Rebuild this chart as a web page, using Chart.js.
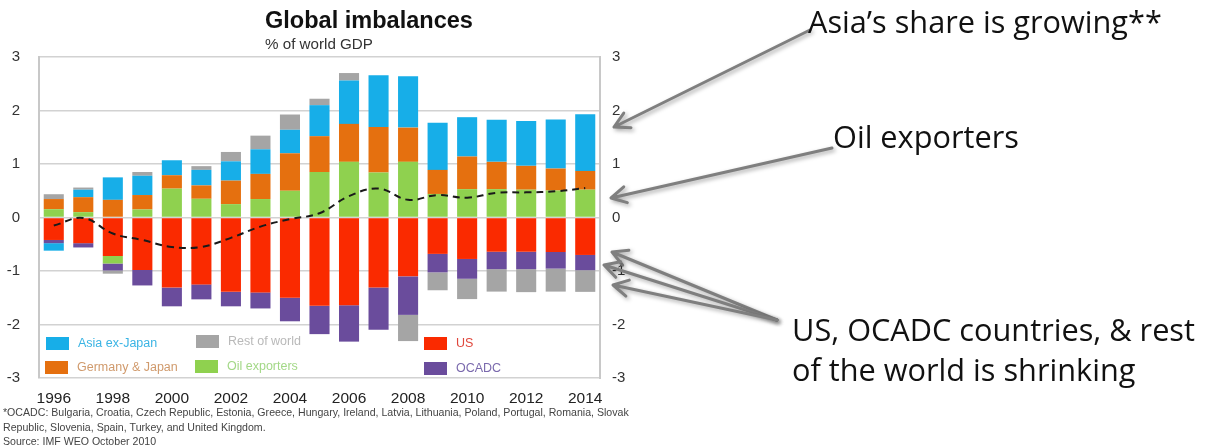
<!DOCTYPE html>
<html>
<head>
<meta charset="utf-8">
<script src="https://cdn.jsdelivr.net/npm/chart.js@4.4.1/dist/chart.umd.min.js"></script>
<style>
  html, body { margin: 0; padding: 0; background: #fff; }
  #wrap { width: 1205px; height: 446px; position: relative; }
</style>
</head>
<body>
<div id="wrap"><canvas id="imbalances" width="1205" height="446"></canvas></div>
<script>
// current account balances, % of world GDP
const years = ['1996', '1997', '1998', '1999', '2000', '2001', '2002', '2003', '2004', '2005',
  '2006', '2007', '2008', '2009', '2010', '2011', '2012', '2013', '2014'];

const us = [-0.42, -0.48, -0.72, -0.98, -1.31, -1.25, -1.39, -1.40, -1.50, -1.65,
  -1.64, -1.31, -1.10, -0.68, -0.775, -0.64, -0.64, -0.645, -0.70];
const oilExporters = [0.155, 0.10, -0.14, 0.15, 0.54, 0.35, 0.25, 0.345, 0.50, 0.85,
  1.04, 0.84, 1.04, 0.44, 0.53, 0.53, 0.52, 0.505, 0.52];
const germanyJapan = [0.19, 0.28, 0.33, 0.27, 0.25, 0.25, 0.44, 0.47, 0.70, 0.67,
  0.71, 0.85, 0.64, 0.45, 0.61, 0.51, 0.445, 0.41, 0.35];
const ocadc = [-0.06, -0.08, -0.13, -0.29, -0.35, -0.28, -0.27, -0.30, -0.44, -0.53,
  -0.68, -0.79, -0.72, -0.345, -0.37, -0.325, -0.325, -0.31, -0.285];
const asiaExJapan = [-0.14, 0.14, 0.42, 0.36, 0.28, 0.29, 0.36, 0.46, 0.44, 0.58,
  0.81, 0.97, 0.96, 0.88, 0.735, 0.785, 0.84, 0.915, 1.06];
const restOfWorld = [0.09, 0.04, -0.06, 0.07, 0, 0.07, 0.175, 0.255, 0.285, 0.12,
  0.14, 0, -0.49, -0.335, -0.38, -0.42, -0.43, -0.43, -0.405];
const discrepancy = [-0.15, -0.01, -0.30, -0.42, -0.55, -0.55, -0.38, -0.17, -0.03, 0.08,
  0.40, 0.54, 0.33, 0.42, 0.37, 0.46, 0.47, 0.49, 0.55];

const yTicks = [-3, -2, -1, 0, 1, 2, 3];

const colors = {
  asia: '#17aee8',
  gj: '#e5700f',
  oil: '#8fd14f',
  rest: '#a5a5a5',
  us: '#fa2a00',
  ocadc: '#6a4c9c'
};

const sansFont = '"Liberation Sans", Arial, sans-serif';
const noteFont = '"Open Sans", "Noto Sans", sans-serif';

function fitFont(ctx, text, width, weight, family) {
  ctx.font = weight + ' 100px ' + family;
  const size = 100 * width / ctx.measureText(text).width;
  return weight + ' ' + size.toFixed(2) + 'px ' + family;
}

// legend boxes sit inside the plot, under the negative bars
const legendItems = [
  { text: 'Asia ex-Japan', color: colors.asia, textColor: '#3ab4e4', x: 46, y: 337 },
  { text: 'Rest of world', color: colors.rest, textColor: '#b9b9b9', x: 196, y: 335 },
  { text: 'US', color: colors.us, textColor: '#e0473c', x: 424, y: 337 },
  { text: 'Germany & Japan', color: colors.gj, textColor: '#d09a6c', x: 45, y: 361 },
  { text: 'Oil exporters', color: colors.oil, textColor: '#a3d887', x: 195, y: 360 },
  { text: 'OCADC', color: colors.ocadc, textColor: '#7a69ad', x: 424, y: 362 }
];

const legendPlugin = {
  id: 'insideLegend',
  afterDatasetsDraw(chart) {
    const ctx = chart.ctx;
    ctx.save();
    ctx.font = '12.5px ' + sansFont;
    ctx.textBaseline = 'middle';
    legendItems.forEach(it => {
      ctx.fillStyle = it.color;
      ctx.fillRect(it.x, it.y, 23, 13);
      ctx.fillStyle = it.textColor;
      ctx.fillText(it.text, it.x + 32, it.y + 7);
    });
    ctx.restore();
  }
};

function arrow(ctx, x1, y1, x2, y2) {
  const ang = Math.atan2(y2 - y1, x2 - x1);
  const head = 17;
  ctx.beginPath();
  ctx.moveTo(x1, y1);
  ctx.lineTo(x2, y2);
  ctx.moveTo(x2 - head * Math.cos(ang - 0.5), y2 - head * Math.sin(ang - 0.5));
  ctx.lineTo(x2, y2);
  ctx.lineTo(x2 - head * Math.cos(ang + 0.5), y2 - head * Math.sin(ang + 0.5));
  ctx.stroke();
}

const textPlugin = {
  id: 'texts',
  afterDraw(chart) {
    const ctx = chart.ctx;
    ctx.save();

    // title block
    ctx.fillStyle = '#111';
    ctx.textBaseline = 'alphabetic';
    ctx.font = fitFont(ctx, 'Global imbalances', 208, 'bold', sansFont);
    ctx.fillText('Global imbalances', 265, 28);
    ctx.fillStyle = '#333';
    ctx.font = fitFont(ctx, '% of world GDP', 108, 'normal', sansFont);
    ctx.fillText('% of world GDP', 265, 49);

    // footnote
    ctx.fillStyle = '#444';
    const foot1 = '*OCADC: Bulgaria, Croatia, Czech Republic, Estonia, Greece, Hungary, Ireland, Latvia, Lithuania, Poland, Portugal, Romania, Slovak';
    ctx.font = fitFont(ctx, foot1, 626, 'normal', sansFont);
    ctx.fillText(foot1, 3, 416);
    ctx.fillText('Republic, Slovenia, Spain, Turkey, and United Kingdom.', 3, 431);
    ctx.fillText('Source: IMF WEO October 2010', 3, 445);

    // callout arrows
    ctx.strokeStyle = '#7f7f7f';
    ctx.lineWidth = 3;
    ctx.lineCap = 'round';
    ctx.lineJoin = 'round';
    ctx.shadowColor = 'rgba(0,0,0,0.35)';
    ctx.shadowBlur = 4;
    ctx.shadowOffsetX = 2;
    ctx.shadowOffsetY = 2;
    arrow(ctx, 810, 30, 614, 127);
    arrow(ctx, 832, 148, 611, 198);
    arrow(ctx, 777, 320, 612, 252);
    arrow(ctx, 777, 320, 604, 265);
    arrow(ctx, 777, 320, 613, 285);
    ctx.shadowColor = 'transparent';

    // callout text
    ctx.fillStyle = '#111';
    ctx.font = fitFont(ctx, 'US, OCADC countries, & rest', 403, 'normal', noteFont);
    ctx.fillText('Asia’s share is growing**', 808, 33);
    ctx.fillText('Oil exporters', 833, 148);
    ctx.fillText('US, OCADC countries, & rest', 792, 341);
    ctx.fillText('of the world is shrinking', 792, 381);
    ctx.restore();
  }
};

const barSet = (label, data, color) => ({
  type: 'bar', label, data, backgroundColor: color, stack: 'regions',
  barPercentage: 0.68, categoryPercentage: 1
});

new Chart(document.getElementById('imbalances'), {
  data: {
    labels: years,
    datasets: [
      {
        type: 'line', label: 'Discrepancy', data: discrepancy, stack: 'line', order: -1,
        borderColor: '#1a1a1a', borderWidth: 2, borderDash: [7, 5],
        pointRadius: 0, tension: 0.4, fill: false
      },
      barSet('US', us, colors.us),
      barSet('Oil exporters', oilExporters, colors.oil),
      barSet('Germany & Japan', germanyJapan, colors.gj),
      barSet('OCADC', ocadc, colors.ocadc),
      barSet('Asia ex-Japan', asiaExJapan, colors.asia),
      barSet('Rest of world', restOfWorld, colors.rest)
    ]
  },
  options: {
    responsive: false,
    animation: false,
    devicePixelRatio: 1,
    layout: { padding: { left: 0, right: 575, top: 57, bottom: 40 } },
    plugins: {
      legend: { display: false },
      tooltip: { enabled: false },
      title: { display: false }
    },
    scales: {
      x: {
        stacked: true,
        offset: true,
        grid: { display: false, drawTicks: false },
        border: { display: false },
        ticks: {
          autoSkip: false, maxRotation: 0, padding: 11,
          color: '#222', font: { family: sansFont, size: 15.5 },
          callback: function (val, i) { return i % 2 === 0 ? this.getLabelForValue(val) : ''; }
        },
        afterFit: s => { s.height = 28; }
      },
      y: {
        stacked: true,
        min: -3, max: 3,
        afterBuildTicks: s => { s.ticks = yTicks.map(v => ({ value: v })); },
        grid: { color: '#d2d2d2', lineWidth: 1.5, drawTicks: false },
        border: { color: '#c8c8c8', width: 2 },
        ticks: { padding: 19, color: '#333', font: { family: sansFont, size: 15 } },
        afterFit: s => { s.width = 39; }
      },
      y2: {
        position: 'right',
        min: -3, max: 3,
        afterBuildTicks: s => { s.ticks = yTicks.map(v => ({ value: v })); },
        grid: { drawOnChartArea: false, drawTicks: false },
        border: { color: '#c8c8c8', width: 2 },
        ticks: { padding: 12, color: '#333', font: { family: sansFont, size: 15 } },
        afterFit: s => { s.width = 30; }
      }
    }
  },
  plugins: [legendPlugin, textPlugin]
});
</script>
</body>
</html>
